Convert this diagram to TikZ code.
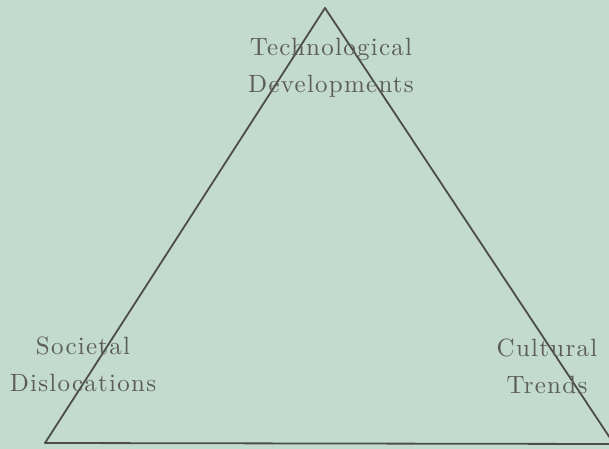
\documentclass[tikz,border=0pt]{standalone}
\usepackage{fontspec}
\newfontfamily\labelfont{lmroman10-regular}[Extension=.otf,LetterSpace=5]
\definecolor{paper}{rgb}{0.765,0.859,0.808}
\definecolor{inkcol}{rgb}{0.30,0.30,0.30}
\definecolor{textcol}{rgb}{0.36,0.36,0.36}
\begin{document}
\begin{tikzpicture}[line join=bevel,
  side/.style={draw=inkcol,line width=1.8bp,line cap=round},
  corner label/.style={text=textcol,align=center,anchor=base,inner sep=0pt,
    font=\labelfont\fontsize{25bp}{37bp}\selectfont}]
%%
  \fill [paper] (0bp,0bp) rectangle (609bp,449bp);
  \useasboundingbox (0bp,0bp) rectangle (609bp,449bp);
  % Corners
  \coordinate (apex) at (325bp,441bp);
  \coordinate (left) at (45bp,6bp);
  \coordinate (right) at (614bp,5bp);
  % Edge: apex -> left
  \draw [side] (apex) -- (left);
  % Edge: left -> right
  \draw [side] (left) -- (right);
  % Edge: right -> apex
  \draw [side] (right) -- (apex);
  % Node: Technological Developments
  \node [corner label] (tech) at (331bp,356bp) {Technological\\Developments};
  % Node: Societal Dislocations
  \node [corner label] (soc) at (83bp,57bp) {Societal\\Dislocations};
  % Node: Cultural Trends
  \node [corner label] (cult) at (547bp,55bp) {Cultural\\Trends};
%
\end{tikzpicture}
\end{document}
